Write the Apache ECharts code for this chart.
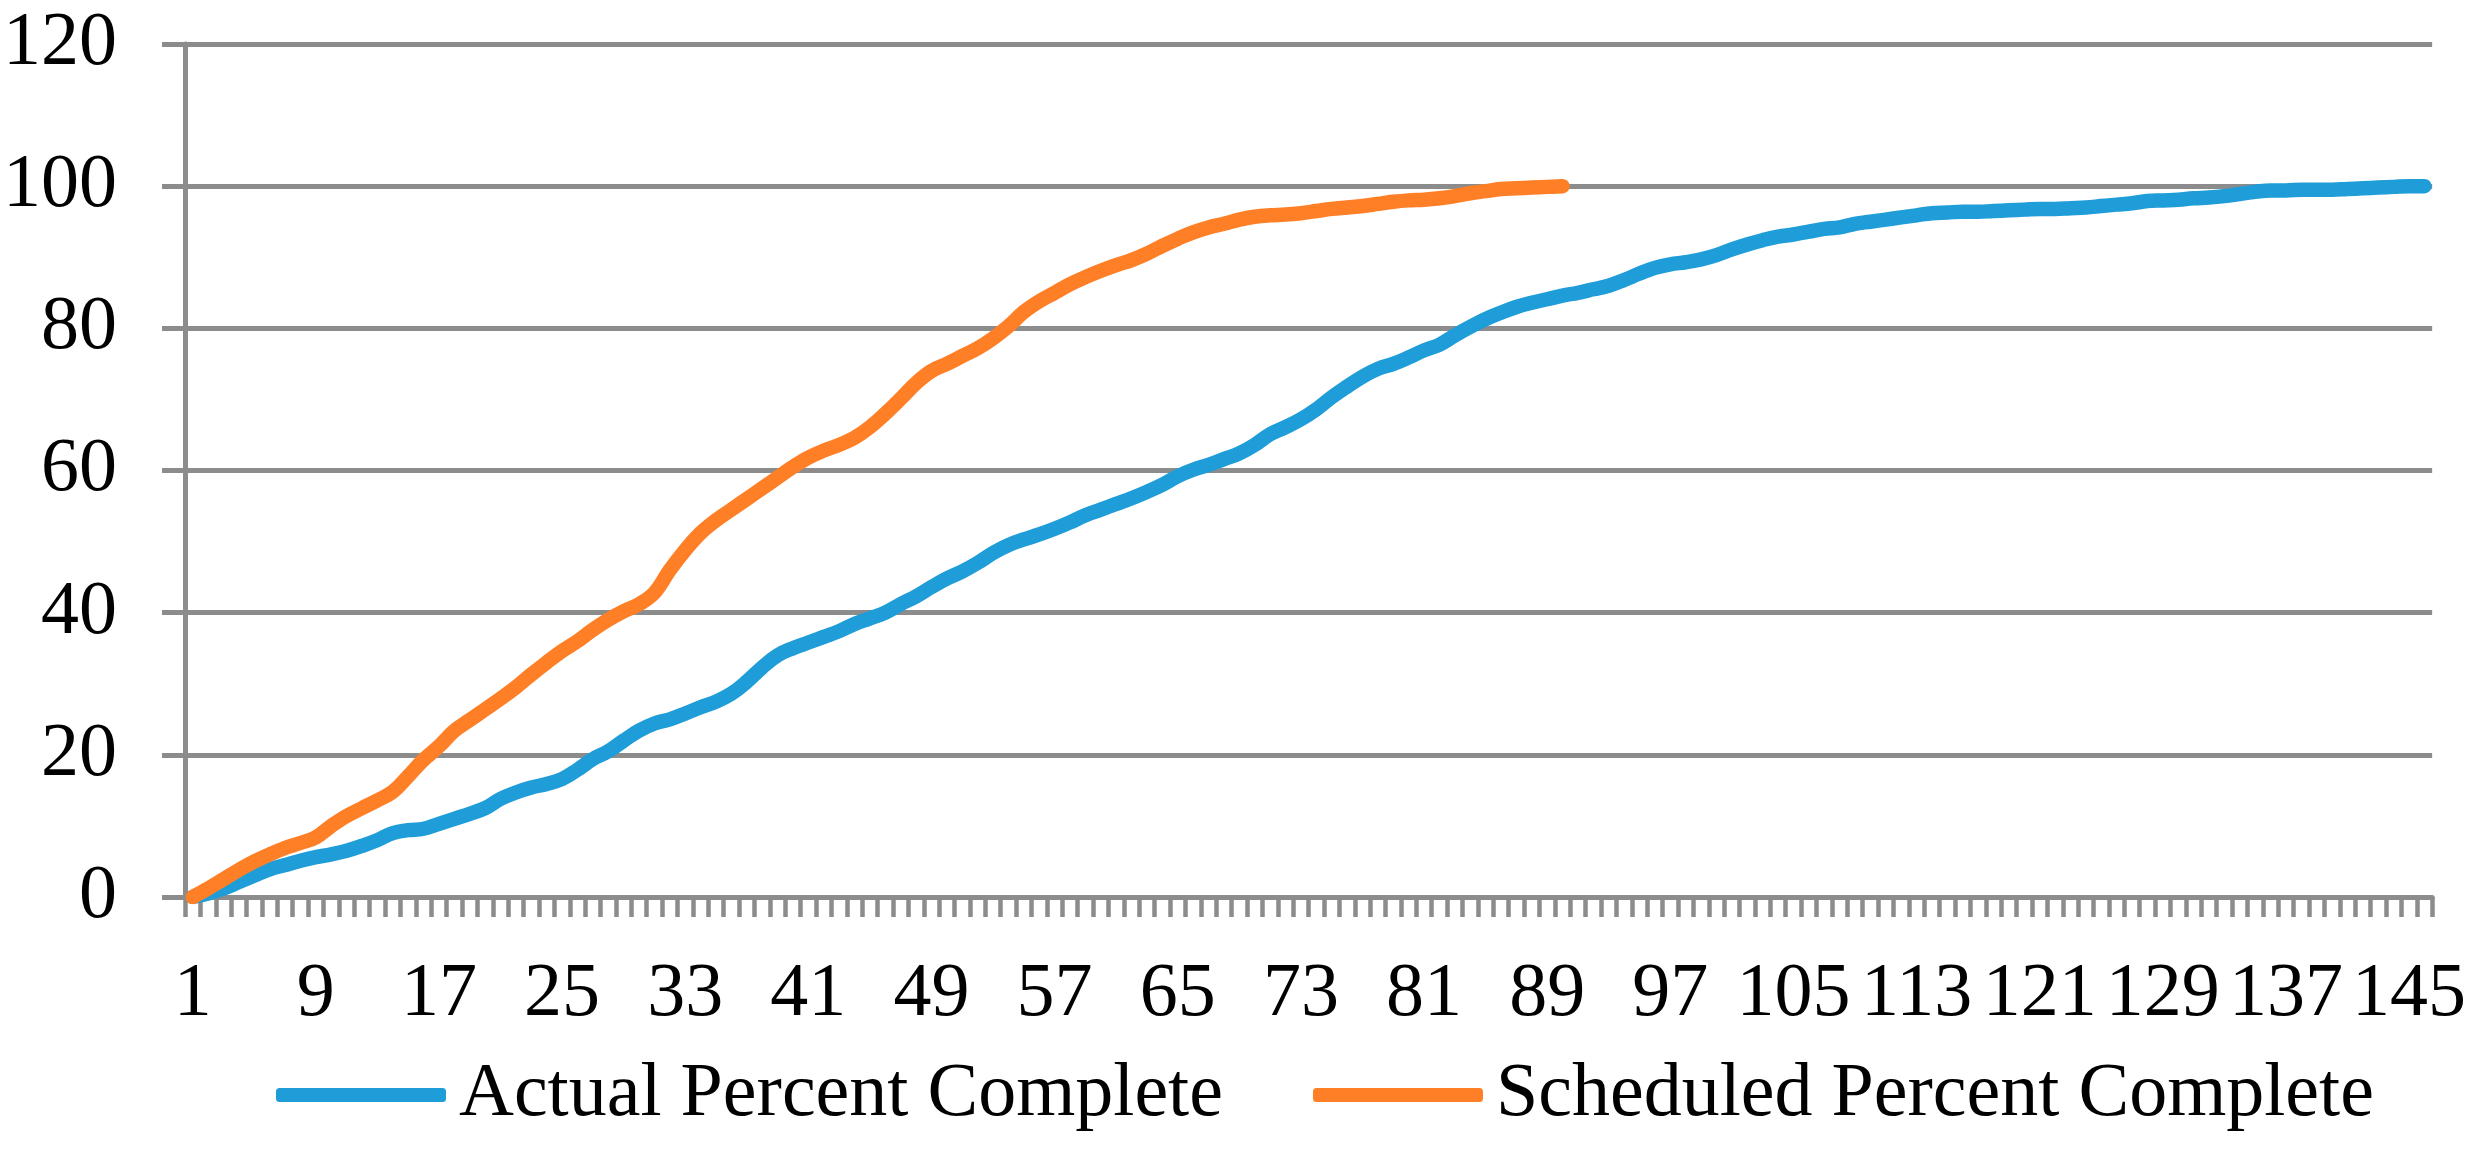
<!DOCTYPE html>
<html>
<head>
<meta charset="utf-8">
<script src="https://cdn.jsdelivr.net/npm/echarts@6/dist/echarts.min.js"></script>
<style>
html,body{margin:0;padding:0;background:#fff;}
#chart{width:2469px;height:1149px;}
</style>
</head>
<body>
<div id="chart"></div>
<script>
const categories = ['1','2','3','4','5','6','7','8','9','10','11','12','13','14','15','16','17','18','19','20',
'21','22','23','24','25','26','27','28','29','30','31','32','33','34','35','36','37','38','39','40',
'41','42','43','44','45','46','47','48','49','50','51','52','53','54','55','56','57','58','59','60',
'61','62','63','64','65','66','67','68','69','70','71','72','73','74','75','76','77','78','79','80',
'81','82','83','84','85','86','87','88','89','90','91','92','93','94','95','96','97','98','99','100',
'101','102','103','104','105','106','107','108','109','110','111','112','113','114','115','116','117','118','119','120',
'121','122','123','124','125','126','127','128','129','130','131','132','133','134','135','136','137','138','139','140',
'141','142','143','144','145','146'];

const actualPercent = [
0,0.5,1.2,2.1,3.0,3.9,4.5,5.1,5.6,6.0,
6.5,7.2,8.0,9.0,9.4,9.6,10.3,11.0,11.7,12.5,
13.8,14.7,15.4,15.9,16.6,17.9,19.4,20.5,22.0,23.4,
24.4,25.0,25.8,26.7,27.5,28.6,30.3,32.3,34.0,35.0,
35.8,36.6,37.4,38.4,39.2,40.0,41.2,42.3,43.6,44.8,
45.8,47.0,48.4,49.5,50.3,51.0,51.8,52.7,53.7,54.5,
55.3,56.1,57.0,58.0,59.2,60.1,60.8,61.6,62.4,63.6,
65.1,66.1,67.2,68.6,70.3,71.8,73.2,74.3,75.0,75.9,
76.9,77.7,79.0,80.2,81.3,82.2,83.0,83.6,84.1,84.6,
85.0,85.5,86.0,86.8,87.7,88.5,89.0,89.3,89.7,90.3,
91.1,91.8,92.4,92.9,93.2,93.6,94.0,94.2,94.7,95.0,
95.3,95.6,95.9,96.2,96.3,96.4,96.4,96.5,96.6,96.7,
96.8,96.8,96.9,97.0,97.2,97.4,97.6,97.9,98.0,98.1,
98.3,98.4,98.6,98.9,99.2,99.4,99.4,99.5,99.5,99.5,
99.6,99.7,99.8,99.9,100.0,100.0];

const scheduledPercent = [
0,1.2,2.5,3.8,5.0,6.0,6.9,7.6,8.4,10.0,
11.4,12.5,13.6,14.8,17.0,19.3,21.2,23.4,24.9,26.4,
27.9,29.5,31.3,33.0,34.6,36.0,37.6,39.0,40.2,41.2,
42.8,46.0,48.8,51.2,53.0,54.5,56.0,57.5,59.0,60.5,
61.8,62.8,63.6,64.6,66.1,68.0,70.1,72.3,74.0,75.0,
76.1,77.2,78.6,80.3,82.3,83.8,85.0,86.2,87.2,88.1,
88.9,89.6,90.5,91.6,92.6,93.5,94.2,94.7,95.3,95.7,
95.9,96.0,96.2,96.5,96.8,97.0,97.2,97.5,97.8,98.0,
98.1,98.3,98.6,99.0,99.3,99.6,99.7,99.8,99.9,100];

const seriesNames = ['Actual Percent Complete','Scheduled Percent Complete'];

const FONT = "'Liberation Serif','Times New Roman',serif";
const GRAY = '#8c8c8c';

const chart = echarts.init(document.getElementById('chart'), null, {renderer:'canvas'});
chart.setOption({
  animation:false,
  backgroundColor:'#fff',
  grid:{left:179, right:36, top:44, bottom:252, containLabel:false},
  legend:{
    left:271, top:1052,
    itemWidth:170, itemHeight:14, itemGap:90,
    icon:'roundRect',
    textStyle:{fontFamily:FONT, fontSize:76, color:'#000', padding:[0,0,0,8]},
    data:seriesNames
  },
  xAxis:{
    type:'category', data:categories, boundaryGap:true,
    axisLine:{show:true, lineStyle:{color:GRAY, width:5}},
    axisTick:{show:true, interval:0, length:20, lineStyle:{color:GRAY, width:4.5}},
    axisLabel:{interval:7, margin:60, fontFamily:FONT, fontSize:76, color:'#000'},
    splitLine:{show:false}
  },
  yAxis:{
    type:'value', min:0, max:120, interval:20,
    axisLine:{show:true, lineStyle:{color:GRAY, width:5}},
    axisTick:{show:true, length:23, lineStyle:{color:GRAY, width:5}},
    axisLabel:{margin:68, fontFamily:FONT, fontSize:76, color:'#000'},
    splitLine:{show:true, lineStyle:{color:GRAY, width:5}}
  },
  series:[
    {name:seriesNames[0], type:'line', data:actualPercent, smooth:0.4, symbol:'none',
     color:'#1E9DD8', lineStyle:{width:14.5, color:'#1E9DD8', cap:'round', join:'round'}, z:3},
    {name:seriesNames[1], type:'line', data:scheduledPercent, smooth:0.4, symbol:'none',
     color:'#FF7F27', lineStyle:{width:14.5, color:'#FF7F27', cap:'round', join:'round'}, z:4}
  ]
});
</script>
</body>
</html>
